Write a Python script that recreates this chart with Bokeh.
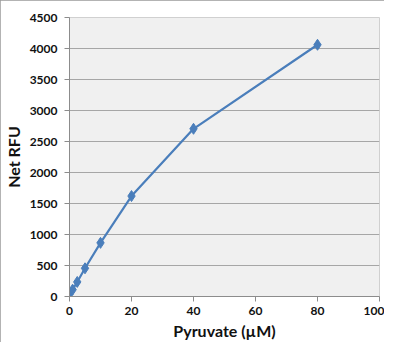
from bokeh.plotting import figure
from bokeh.embed import file_html
from bokeh.resources import INLINE
from bokeh.models import FixedTicker, Range1d

pyruvate = [0, 1, 2.5, 5, 10, 20, 40, 80]
net_rfu = [40, 110, 235, 455, 865, 1620, 2705, 4060]
x_ticks = [0, 20, 40, 60, 80, 100]
y_ticks = [0, 500, 1000, 1500, 2000, 2500, 3000, 3500, 4000, 4500]

p = figure(width=384, height=342, output_backend="svg", toolbar_location=None,
           x_range=Range1d(0, 100), y_range=Range1d(0, 4500),
           min_border_left=66, min_border_right=5, min_border_top=17, min_border_bottom=44)
p.styles = {"outline": "2px solid #9a9a9a", "outline-offset": "-2px"}

p.background_fill_color = "#f0f0f0"
p.border_fill_color = "white"
p.outline_line_color = "#d0d0d0"
p.outline_line_width = 1

p.line(pyruvate, net_rfu, line_color="#4a7ebb", line_width=2.2)
p.scatter(pyruvate, net_rfu, marker="diamond", size=11, fill_color="#4a7ebb", line_color="#4a7ebb")

for ax in (p.xaxis[0], p.yaxis[0]):
    ax.major_label_text_font = "Lato"
    ax.major_label_text_font_style = "bold"
    ax.major_label_text_font_size = "12px"
    ax.major_label_text_color = "#111111"
    ax.axis_label_text_font = "Lato"
    ax.axis_label_text_font_style = "bold"
    ax.axis_label_text_font_size = "16px"
    ax.axis_label_text_color = "#111111"
    ax.axis_line_color = "#8c8c8c"
    ax.major_tick_line_color = "#8c8c8c"
    ax.major_tick_out = 5
    ax.major_tick_in = 0
    ax.minor_tick_line_color = None

p.xaxis.ticker = FixedTicker(ticks=x_ticks)
p.yaxis.ticker = FixedTicker(ticks=y_ticks)
p.xaxis.axis_label = "Pyruvate (µM)"
p.yaxis.axis_label = "Net RFU"
p.xaxis.major_label_standoff = 5
p.yaxis.major_label_standoff = 7
p.xaxis.axis_label_standoff = 3
p.yaxis.axis_label_standoff = 4

p.xgrid.grid_line_color = None
p.ygrid.grid_line_color = "#a6a6a6"
p.ygrid.grid_line_width = 1

open("out.html", "w").write(file_html(p, INLINE))
